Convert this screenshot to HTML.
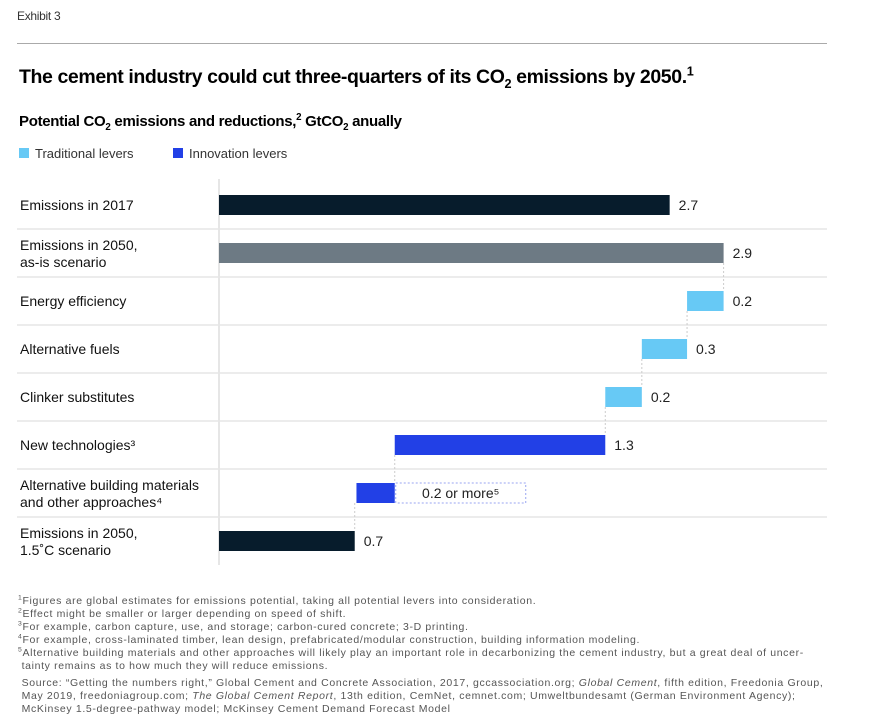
<!DOCTYPE html>
<html><head><meta charset="utf-8"><style>
body{margin:0;width:894px;height:726px;background:#fff;font-family:"Liberation Sans",sans-serif;color:#000;overflow:hidden;position:relative}
.a{position:absolute;white-space:nowrap}
.fn{font-size:10.5px;color:#555;line-height:13px;letter-spacing:0.65px}
sup,sub{font-size:65%;line-height:0}
</style></head><body>
<div class="a" style="left:17px;top:9px;font-size:12px;color:#333;letter-spacing:-0.3px">Exhibit 3</div>
<div class="a" style="left:17px;top:43px;width:810px;height:1px;background:#aaa"></div>
<div class="a" style="left:19px;top:66px;font-size:19.5px;font-weight:bold;letter-spacing:-0.4px">The cement industry could cut three-quarters of its CO<sub>2</sub> emissions by 2050.<sup>1</sup></div>
<div class="a" style="left:19px;top:113px;font-size:15px;font-weight:bold;letter-spacing:-0.3px">Potential CO<sub>2</sub> emissions and reductions,<sup>2</sup> GtCO<sub>2</sub> anually</div>
<div class="a" style="left:19px;top:146px;font-size:13px;color:#333"><span style="display:inline-block;width:10px;height:10px;background:#67c9f5;margin-right:6px"></span>Traditional levers</div>
<div class="a" style="left:173px;top:146px;font-size:13px;color:#333"><span style="display:inline-block;width:10px;height:10px;background:#2240e6;margin-right:6px"></span>Innovation levers</div>
<svg class="a" style="left:0;top:0" width="894" height="590" id="chart"></svg>
<div class="a fn" style="left:18px;top:595px">
<div><sup>1</sup>Figures are global estimates for emissions potential, taking all potential levers into consideration.</div>
<div><sup>2</sup>Effect might be smaller or larger depending on speed of shift.</div>
<div><sup>3</sup>For example, carbon capture, use, and storage; carbon-cured concrete; 3-D printing.</div>
<div><sup>4</sup>For example, cross-laminated timber, lean design, prefabricated/modular construction, building information modeling.</div>
<div><sup>5</sup>Alternative building materials and other approaches will likely play an important role in decarbonizing the cement industry, but a great deal of uncer-</div>
<div>&nbsp;tainty remains as to how much they will reduce emissions.</div>
<div style="margin-top:4px">&nbsp;Source: “Getting the numbers right,” Global Cement and Concrete Association, 2017, gccassociation.org; <i>Global Cement</i>, fifth edition, Freedonia Group,</div>
<div>&nbsp;May 2019, freedoniagroup.com; <i>The Global Cement Report</i>, 13th edition, CemNet, cemnet.com; Umweltbundesamt (German Environment Agency);</div>
<div>&nbsp;McKinsey 1.5-degree-pathway model; McKinsey Cement Demand Forecast Model</div>
</div>
<script>
const categories=[["Emissions in 2017"],["Emissions in 2050,","as-is scenario"],["Energy efficiency"],["Alternative fuels"],["Clinker substitutes"],["New technologies³"],["Alternative building materials","and other approaches⁴"],["Emissions in 2050,","1.5˚C scenario"]];
const values=[2.59,2.9,0.21,0.26,0.21,1.21,0.22,0.78];
const types=["total","total","trad","trad","trad","innov","innov","total"];
const valueLabels=["2.7","2.9","0.2","0.3","0.2","1.3","0.2 or more⁵","0.7"];
const svg=document.getElementById('chart');
const NS="http://www.w3.org/2000/svg";
const x0=219,scale=174,rowTop=181,rowH=48,barH=20;
const xs=v=>x0+v*scale;
const colors={total:"#071c2c",trad:"#67c9f5",innov:"#2240e6"};
function mk(t,a){const e=document.createElementNS(NS,t);for(const k in a)e.setAttribute(k,a[k]);svg.appendChild(e);return e;}
let axis=mk('line',{x1:x0,x2:x0,y1:rowTop-2,y2:rowTop+rowH*8,stroke:'#ccc','stroke-width':1});


let level=0;
categories.forEach((c,i)=>{
  const yc=rowTop+rowH*i+rowH/2;
  if(i>0){const s=mk('line',{x1:17,x2:827,y1:rowTop+rowH*i,y2:rowTop+rowH*i,stroke:'#e6e6e6','stroke-width':1.5});
    
    }
  const t=mk('text',{x:20,y:yc+(c.length>1?-3:5),'font-size':14,fill:'#111'});
  
  
  c.forEach((l,j)=>{const ts=document.createElementNS(NS,'tspan');ts.setAttribute('x',20);ts.setAttribute('dy',j?17:0);ts.textContent=l;t.appendChild(ts);});
  let a,b;
  if(types[i]==="total"){a=0;b=values[i];level=values[i];}
  else{b=level;a=level-values[i];level=a;}
  const r=mk('rect',{x:xs(a),y:yc-barH/2,width:xs(b)-xs(a),height:barH,fill:types[i]==="total"&&i===1?"#6d7a84":colors[types[i]]});
  
  
  if(i>1){const d=mk('line',{x1:xs(b),x2:xs(b),y1:yc-rowH+barH/2,y2:yc-barH/2,stroke:'#ccc','stroke-dasharray':'2,2'});
    
    }
  if(i===6){
    const bx=mk('rect',{x:xs(b)+1,y:yc-barH/2,width:130,height:barH,fill:'none',stroke:'#9aa6f0','stroke-dasharray':'2,2'});
    
    
    const vt=mk('text',{x:xs(b)+66,y:yc+5,'font-size':14,fill:'#222','text-anchor':'middle'});
    vt.textContent=valueLabels[i];
    
    
  }else{
    const vt=mk('text',{x:xs(b)+9,y:yc+5,'font-size':14,fill:'#222'});
    vt.textContent=valueLabels[i];
    
    
  }
});
</script>
</body></html>
